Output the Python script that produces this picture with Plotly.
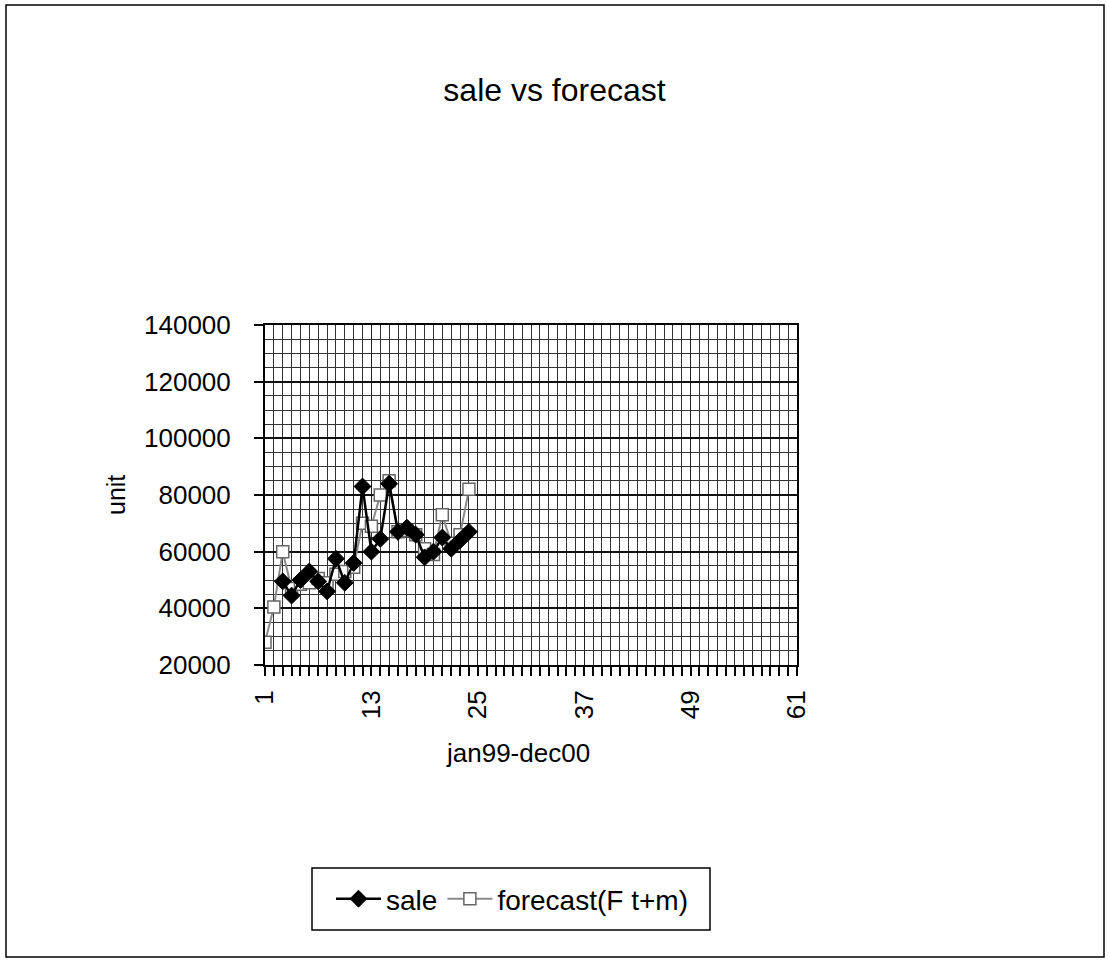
import plotly.graph_objects as go

# Monthly index (1 = jan99)
months = list(range(1, 25))

# Actual sales, units (first two months not recorded)
sale = [None, None, 49500, 44500, 50000, 53000, 49500, 46000, 57500, 49000,
        56000, 83000, 60000, 64500, 84000, 67000, 68500, 66000, 58000, 60000,
        65000, 61000, 64000, 67000]

# Forecast F(t+m), units
forecast = [28000, 40500, 60000, 47000, 48500, 49000, 50500, 49000, 52000, 53000,
            54500, 70000, 69000, 80000, 85000, 67000, 67500, 66000, 61000, 59000,
            73000, 63000, 66000, 82000]

x_ticks = [1, 13, 25, 37, 49, 61]
x_range = [1, 61]
y_range = [20000, 140000]

W, H = 1109, 961
# plot area in pixels
L, R, T, B = 265, 797, 325, 665

FONT = "Liberation Sans, Arial, sans-serif"


def px_to_paper_x(px):
    return (px - L) / (R - L)


def px_to_paper_y(py):
    return (B - py) / (B - T)


fig = go.Figure()

# forecast underneath, sales on top
fig.add_trace(go.Scatter(
    x=months, y=forecast, name="forecast(F t+m)", mode="lines+markers",
    line=dict(color="#8a8a8a", width=2),
    marker=dict(symbol="square", size=12, color="white",
                line=dict(color="#666666", width=1.5)),
))

fig.add_trace(go.Scatter(
    x=months, y=sale, name="sale", mode="lines+markers",
    line=dict(color="black", width=2.5),
    marker=dict(symbol="diamond", size=13, color="black",
                line=dict(color="black", width=1)),
    connectgaps=False,
))

fig.update_layout(
    width=W, height=H,
    margin=dict(l=L, r=W - R, t=T, b=H - B, autoexpand=False),
    paper_bgcolor="white", plot_bgcolor="white",
    font=dict(family=FONT, size=26, color="black"),
    title=dict(text="sale vs forecast", x=0.5, xref="container",
               y=1 - 90 / H, yref="container", xanchor="center", yanchor="middle",
               font=dict(family=FONT, size=32, color="black")),
    showlegend=True,
    legend=dict(orientation="h", xref="container", yref="container",
                x=512 / W, y=1 - 899 / H, xanchor="center", yanchor="middle",
                borderwidth=0, bgcolor="rgba(0,0,0,0)", traceorder="reversed",
                font=dict(family=FONT, size=28, color="black"),
                itemwidth=45, tracegroupgap=0),
)

fig.update_xaxes(
    range=x_range, tickmode="array", tickvals=x_ticks,
    ticktext=[str(v) for v in x_ticks], tickangle=-90,
    ticks="outside", ticklen=9, tickcolor="black", tickwidth=1.5,
    showline=True, linecolor="black", linewidth=2, mirror=True,
    showgrid=True, gridcolor="#222222", gridwidth=1,
    minor=dict(dtick=1, tick0=1, showgrid=True, gridcolor="#333333", gridwidth=1,
               ticks="outside", ticklen=9, tickcolor="black", tickwidth=1.5),
    zeroline=False, tickfont=dict(family=FONT, size=26),
    ticklabelstandoff=4,
)

fig.update_yaxes(
    range=y_range, dtick=20000, tick0=0, tickformat="d",
    ticks="outside", ticklen=9, tickcolor="black", tickwidth=1.5,
    showline=True, linecolor="black", linewidth=2, mirror=True,
    showgrid=True, gridcolor="#111111", gridwidth=1.5,
    minor=dict(dtick=5000, showgrid=True, gridcolor="#333333", gridwidth=1),
    zeroline=False, tickfont=dict(family=FONT, size=26),
    ticklabelstandoff=18,
)

# axis titles
fig.add_annotation(text="unit", xref="paper", yref="paper",
                   x=px_to_paper_x(100), y=px_to_paper_y(495),
                   textangle=-90, showarrow=False,
                   font=dict(family=FONT, size=25, color="black"))
fig.add_annotation(text="jan99-dec00", xref="paper", yref="paper",
                   x=px_to_paper_x(518), y=px_to_paper_y(770),
                   showarrow=False,
                   font=dict(family=FONT, size=26, color="black"))

# legend box
fig.add_shape(type="rect", xref="paper", yref="paper",
              x0=px_to_paper_x(312), x1=px_to_paper_x(710),
              y0=px_to_paper_y(930), y1=px_to_paper_y(868),
              line=dict(color="black", width=1.5), layer="below")

# chart-area frame
fig.add_shape(type="rect", xref="paper", yref="paper",
              x0=px_to_paper_x(6), x1=px_to_paper_x(1104),
              y0=px_to_paper_y(957), y1=px_to_paper_y(5),
              line=dict(color="black", width=1.5), layer="below")

fig.write_html("out.html")
